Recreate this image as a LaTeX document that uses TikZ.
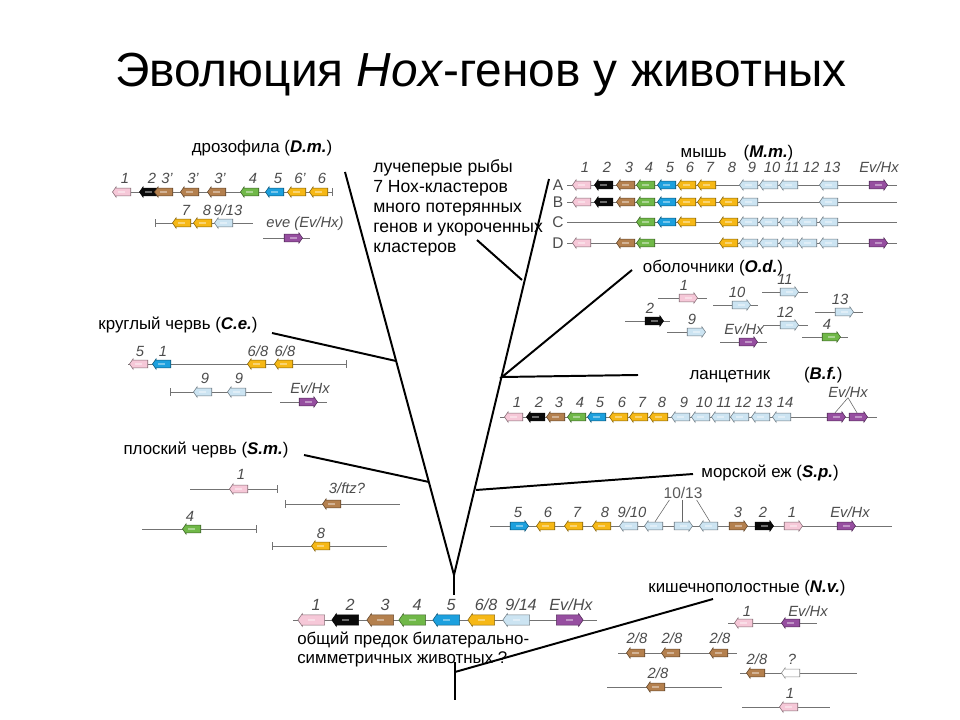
\documentclass[tikz,border=0pt]{standalone}
\usepackage{fontspec}
\setmainfont{Liberation Sans}
\usetikzlibrary{shapes.arrows}
\usetikzlibrary{arrows.meta}

\definecolor{hxpink}{RGB}{246,200,216}
\definecolor{hxblack}{RGB}{10,10,10}
\definecolor{hxbrown}{RGB}{180,128,78}
\definecolor{hxgreen}{RGB}{112,184,72}
\definecolor{hxblue}{RGB}{28,160,222}
\definecolor{hxorange}{RGB}{246,184,22}
\definecolor{hxlblue}{RGB}{204,228,242}
\definecolor{hxpurple}{RGB}{150,78,160}
\definecolor{hxwhite}{RGB}{255,255,255}

\tikzset{endbar/.tip={Bar[width=5pt]}}

\begin{document}
\begin{tikzpicture}[x=0.025cm, y=-0.025cm,
  gene/.style={single arrow, draw=#1!55!black, fill=#1, line width=0.4pt, inner xsep=0pt, inner ysep=2.6pt,
    minimum height=13pt, single arrow head extend=0.9pt, single arrow tip angle=110,
    path picture={\fill[white, opacity=0.4] ([shift={(-2.5pt,-0.9pt)}]path picture bounding box.center)
      rectangle ([shift={(2.5pt,0.9pt)}]path picture bounding box.center);}},
  biggene/.style={gene=#1, minimum height=19pt, inner ysep=3.4pt},
  rev/.style={shape border rotate=180},
  fwd/.style={},
  num/.style={font=\fontsize{10.5}{11}\selectfont\itshape, text=black!70, inner sep=0pt},
  bignum/.style={num, font=\fontsize{11.5}{12}\selectfont\itshape},
  chr/.style={draw=black!55, line width=0.6pt},
  taxon/.style={font=\fontsize{12}{14}\selectfont, inner sep=0pt},
  branch/.style={line width=1.4pt}
]
\useasboundingbox[fill=white] (0,0) rectangle (960,720);

% title
\node[font=\fontsize{34}{40}\selectfont] (title) at (481,75) {Эволюция \textit{Hox}-генов у животных};

% tree
\coordinate (root) at (454,575);
\coordinate (dm) at (345,172);
\coordinate (mm) at (549,179);
\coordinate (ceJ) at (396,361);
\coordinate (ce) at (272,333);
\coordinate (smJ) at (429,482);
\coordinate (sm) at (304,455);
\coordinate (fishJ) at (522,280);
\coordinate (fish) at (477,240);
\coordinate (tunJ) at (502,377);
\coordinate (tun) at (632,270);
\coordinate (lan) at (638,375);
\coordinate (spJ) at (476,490);
\coordinate (sp) at (693,474);
\coordinate (stem) at (454,595);
\coordinate (nvTop) at (455,662);
\coordinate (nvJ) at (455,672);
\coordinate (base) at (455,700);
\coordinate (nv) at (713,599);

\draw[branch] (dm) -- (root) -- (mm);
\draw[branch] (root) -- (stem);
\draw[branch] (ceJ) -- (ce);
\draw[branch] (smJ) -- (sm);
\draw[branch] (fishJ) -- (fish);
\draw[branch] (tun) -- (tunJ) -- (lan);
\draw[branch] (spJ) -- (sp);
\draw[branch] (nvTop) -- (base);
\draw[branch] (nvJ) -- (nv);

% fruit fly
\node[taxon] (dmName) at (262,148) {дрозофила (\textbf{\textit{D.m.}})};
\draw[chr, -endbar] (115,192) -- (333,192);
\foreach \x/\col/\d/\t [count=\i] in {123/hxpink/rev/1, 150/hxblack/rev/2, 165/hxbrown/rev/3', 191/hxbrown/rev/3', 218/hxbrown/rev/3', 251/hxgreen/rev/4, 276/hxblue/rev/5, 298/hxorange/rev/6', 320/hxorange/rev/6}{
  \node[gene=\col, \d] (dmA\i) at (\x,192) {};
  \node[num] (dmAn\i) at (\x+2,178) {\t};
}
\draw[chr, endbar-] (155,223) -- (253,223);
\foreach \x/\col/\d/\t [count=\i] in {183/hxorange/rev/7, 204/hxorange/rev/8, 225/hxlblue/rev/{9/13}}{
  \node[gene=\col, \d] (dmB\i) at (\x,223) {};
  \node[num] (dmBn\i) at (\x+3,210) {\t};
}
\node[num] (dmEvn) at (305,224) {eve (Ev/Hx)};
\draw[chr] (263,238) -- (310,238);
\node[gene=hxpurple] (dmEv) at (292,238) {};

% ray-finned fish
\node[font=\fontsize{12.5}{14.2}\selectfont, align=left, anchor=north west, inner sep=0pt] (fishText) at (373,159)
  {лучеперые рыбы\\7 Нох-кластеров\\много потерянных\\генов и укороченных\\кластеров};

% mouse
\node[taxon] (mmName) at (737,153) {мышь\quad(\textbf{\textit{M.m.}})};
\foreach \y/\r in {185/A, 202/B, 222/C, 243/D}{
  \node[font=\fontsize{11}{12}\selectfont, text=black!70, inner sep=0pt] (mm\r) at (558,\y) {\r};
  \draw[chr] (567,\y) -- (897,\y);
}
\foreach \x/\t [count=\i] in {583/1, 605/2, 627/3, 647/4, 668/5, 688/6, 708/7, 730/8, 750/9, 770/10, 790/11, 809/12, 830/13, 877/{Ev/Hx}}{
  \node[num] (mmn\i) at (\x+2,167) {\t};
}
\foreach \x/\col [count=\i] in {583/hxpink, 605/hxblack, 627/hxbrown, 647/hxgreen, 668/hxblue, 688/hxorange, 708/hxorange, 750/hxlblue, 770/hxlblue, 790/hxlblue, 830/hxlblue}
  \node[gene=\col, rev] (mmA\i) at (\x,185) {};
\node[gene=hxpurple] (mmAev) at (877,185) {};
\foreach \x/\col [count=\i] in {583/hxpink, 605/hxblack, 627/hxbrown, 647/hxgreen, 668/hxblue, 688/hxorange, 708/hxorange, 730/hxorange, 750/hxlblue, 830/hxlblue}
  \node[gene=\col, rev] (mmB\i) at (\x,202) {};
\foreach \x/\col [count=\i] in {647/hxgreen, 668/hxblue, 688/hxorange, 730/hxorange, 750/hxlblue, 770/hxlblue, 790/hxlblue, 809/hxlblue, 830/hxlblue}
  \node[gene=\col, rev] (mmC\i) at (\x,222) {};
\foreach \x/\col [count=\i] in {583/hxpink, 627/hxbrown, 647/hxgreen, 730/hxorange, 750/hxlblue, 770/hxlblue, 790/hxlblue, 809/hxlblue, 830/hxlblue}
  \node[gene=\col, rev] (mmD\i) at (\x,243) {};
\node[gene=hxpurple] (mmDev) at (877,243) {};

% tunicates
\node[taxon] (odName) at (713,268) {оболочники (\textbf{\textit{O.d.}})};
\foreach \x/\y/\a/\b/\col/\t [count=\i] in {687/298/658/707/hxpink/1, 740/305/713/758/hxlblue/10, 788/292/762/808/hxlblue/11, 843/312/815/863/hxlblue/13, 653/321/625/670/hxblack/2, 695/332/667/703/hxlblue/9, 788/325/763/808/hxlblue/12, 747/342/720/767/hxpurple/{Ev/Hx}, 830/337/802/848/hxgreen/4}{
  \draw[chr] (\a,\y) -- (\b,\y);
  \node[gene=\col] (od\i) at (\x,\y) {};
  \node[num] (odn\i) at (\x-3,\y-13) {\t};
}

% roundworm
\node[taxon] (ceName) at (178,325) {круглый червь (\textbf{\textit{C.e.}})};
\draw[chr, -endbar] (128,364) -- (347,364);
\foreach \x/\col/\t [count=\i] in {140/hxpink/5, 163/hxblue/1, 258/hxorange/{6/8}, 285/hxorange/{6/8}}{
  \node[gene=\col, rev] (ceA\i) at (\x,364) {};
  \node[num] (ceAn\i) at (\x,351) {\t};
}
\draw[chr, endbar-] (170,392) -- (272,392);
\foreach \x [count=\i] in {204,238}{
  \node[gene=hxlblue, rev] (ceB\i) at (\x,392) {};
  \node[num] (ceBn\i) at (\x+1,378) {9};
}
\node[num] (ceEvn) at (310,388) {Ev/Hx};
\draw[chr] (280,402) -- (327,402);
\node[gene=hxpurple] (ceEv) at (307,402) {};

% lancelet
\node[taxon] (bfName) at (766,375) {ланцетник\qquad(\textbf{\textit{B.f.}})};
\draw[chr] (500,417) -- (877,417);
\foreach \x/\col/\t [count=\i] in {515/hxpink/1, 537/hxblack/2, 557/hxbrown/3, 578/hxgreen/4, 598/hxblue/5, 620/hxorange/6, 640/hxorange/7, 660/hxorange/8, 682/hxlblue/9, 702/hxlblue/10, 722/hxlblue/11, 741/hxlblue/12, 762/hxlblue/13, 783/hxlblue/14}{
  \node[gene=\col, rev] (bf\i) at (\x,417) {};
  \node[num] (bfn\i) at (\x+2,402) {\t};
}
\node[gene=hxpurple] (bfEv1) at (835,417) {};
\node[gene=hxpurple] (bfEv2) at (857,417) {};
\node[num] (bfEvn) at (848,392) {Ev/Hx};
\draw[black!60, line width=0.4pt] (bfEvn.south) -- (bfEv1.north);
\draw[black!60, line width=0.4pt] (bfEvn.south) -- (bfEv2.north);

% flatworm
\node[taxon] (smName) at (206,450) {плоский червь (\textbf{\textit{S.m.}})};
\draw[chr, -endbar] (190,489) -- (278,489);
\node[gene=hxpink, rev] (sm1) at (240,489) {};
\node[num] (smn1) at (241,474) {1};
\draw[chr, endbar-] (285,504) -- (400,504);
\node[gene=hxbrown, rev] (sm2) at (333,504) {};
\node[num] (smn2) at (347,488) {3/ftz?};
\draw[chr, -endbar] (142,529) -- (257,529);
\node[gene=hxgreen, rev] (sm3) at (193,529) {};
\node[num] (smn3) at (190,516) {4};
\draw[chr, endbar-] (272,546) -- (387,546);
\node[gene=hxorange, rev] (sm4) at (322,546) {};
\node[num] (smn4) at (321,533) {8};

% sea urchin
\node[taxon] (spName) at (770,473) {морской еж (\textbf{\textit{S.p.}})};
\draw[chr] (490,526) -- (892,526);
\foreach \x/\col/\d [count=\i] in {518/hxblue/fwd, 547/hxorange/rev, 575/hxorange/rev, 603/hxorange/rev, 630/hxlblue/rev, 655/hxlblue/rev, 682/hxlblue/fwd, 710/hxlblue/rev, 737/hxbrown/fwd, 763/hxblack/fwd, 792/hxpink/fwd, 845/hxpurple/fwd}
  \node[gene=\col, \d] (sp\i) at (\x,526) {};
\foreach \x/\t [count=\i] in {518/5, 548/6, 577/7, 605/8, 632/{9/10}, 738/3, 763/2, 792/1, 850/{Ev/Hx}}
  \node[num] (spn\i) at (\x,512) {\t};
\node[font=\fontsize{11}{12}\selectfont, text=black!65, inner sep=0pt] (spGroup) at (683,493) {10/13};
\draw[black!60, line width=0.4pt] (spGroup.south west) ++(6,1) -- (sp6.north);
\draw[black!60, line width=0.4pt] (spGroup.south) ++(-1,1) -- (sp7.north);
\draw[black!60, line width=0.4pt] (spGroup.south east) ++(-6,1) -- (sp8.north);

% common bilaterian ancestor
\draw[chr] (293,620) -- (597,620);
\foreach \x/\col/\t [count=\i] in {313/hxpink/1, 347/hxblack/2, 382/hxbrown/3, 414/hxgreen/4, 448/hxblue/5, 483/hxorange/{6/8}, 518/hxlblue/{9/14}}{
  \node[biggene=\col, rev] (anc\i) at (\x,620) {};
  \node[bignum] (ancn\i) at (\x+3,605) {\t};
}
\node[biggene=hxpurple] (ancEv) at (568,620) {};
\node[bignum] (ancEvn) at (571,605) {Ev/Hx};
\node[font=\fontsize{12}{13.5}\selectfont, align=left, anchor=north west, inner sep=0pt] (ancText) at (297,632)
  {общий предок билатерально-\\симметричных животных ?};

% cnidarians
\node[taxon] (nvName) at (747,588) {кишечнополостные (\textbf{\textit{N.v.}})};
\draw[chr] (728,623) -- (817,623);
\node[gene=hxpink, rev] (nv1) at (745,623) {};
\node[num] (nvn1) at (747,611) {1};
\node[gene=hxpurple, rev] (nv2) at (792,623) {};
\node[num] (nvn2) at (808,611) {Ev/Hx};
\draw[chr] (618,653) -- (737,653);
\foreach \x [count=\i] in {637,672,720}{
  \node[gene=hxbrown, rev] (nvB\i) at (\x,653) {};
  \node[num] (nvBn\i) at (\x,638) {2/8};
}
\draw[chr] (607,687) -- (722,687);
\node[gene=hxbrown, rev] (nvC1) at (657,687) {};
\node[num] (nvCn1) at (658,673) {2/8};
\draw[chr] (740,673) -- (857,673);
\node[gene=hxbrown, rev] (nvD1) at (757,673) {};
\node[num] (nvDn1) at (757,659) {2/8};
\node[gene=hxwhite, rev] (nvD2) at (792,673) {};
\node[num] (nvDn2) at (792,659) {?};
\draw[chr] (742,707) -- (830,707);
\node[gene=hxpink, rev] (nvE1) at (790,707) {};
\node[num] (nvEn1) at (790,693) {1};

\end{tikzpicture}
\end{document}
